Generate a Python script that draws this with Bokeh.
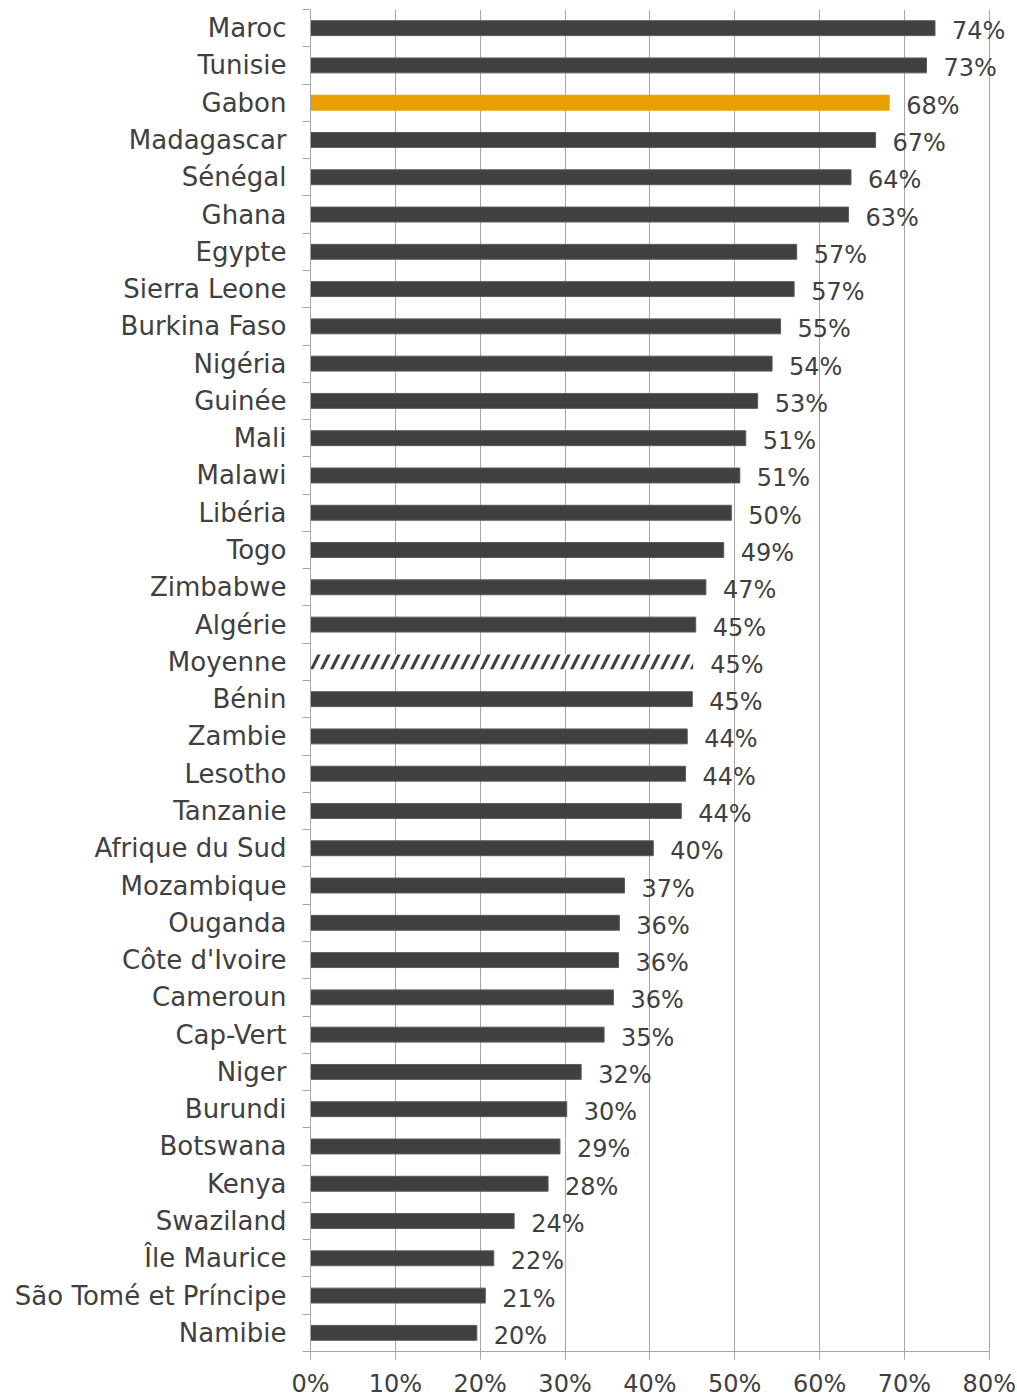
from bokeh.plotting import figure
from bokeh.models import ColumnDataSource, FixedTicker, NumeralTickFormatter, Range1d, LabelSet
from bokeh.core.properties import value
from bokeh.embed import file_html
from bokeh.resources import INLINE

countries = ["Maroc", "Tunisie", "Gabon", "Madagascar", "Sénégal", "Ghana", "Egypte",
             "Sierra Leone", "Burkina Faso", "Nigéria", "Guinée", "Mali", "Malawi",
             "Libéria", "Togo", "Zimbabwe", "Algérie", "Moyenne", "Bénin", "Zambie",
             "Lesotho", "Tanzanie", "Afrique du Sud", "Mozambique", "Ouganda",
             "Côte d'Ivoire", "Cameroun", "Cap-Vert", "Niger", "Burundi", "Botswana",
             "Kenya", "Swaziland", "Île Maurice", "São Tomé et Príncipe", "Namibie"]
values = [73.6, 72.6, 68.2, 66.6, 63.7, 63.4, 57.3, 57.0, 55.4, 54.4, 52.7, 51.3, 50.6,
          49.6, 48.7, 46.6, 45.4, 45.1, 45.0, 44.4, 44.2, 43.7, 40.4, 37.0, 36.4, 36.3,
          35.7, 34.6, 31.9, 30.2, 29.4, 28.0, 24.0, 21.6, 20.6, 19.6]
labels = ["74%", "73%", "68%", "67%", "64%", "63%", "57%", "57%", "55%", "54%", "53%",
          "51%", "51%", "50%", "49%", "47%", "45%", "45%", "45%", "44%", "44%", "44%",
          "40%", "37%", "36%", "36%", "36%", "35%", "32%", "30%", "29%", "28%", "24%",
          "22%", "21%", "20%"]
highlight = "Gabon"
average = "Moyenne"
x_ticks = [0, 0.1, 0.2, 0.3, 0.4, 0.5, 0.6, 0.7, 0.8]

DARK = "#404040"
GOLD = "#E8A100"
GRID = "#A6A6A6"
TEXT = "#404040"
FONT = "DejaVu Sans"

n = len(countries)
ypos = [n - 1 - i for i in range(n)]
frac = [v / 100 for v in values]

normal = [i for i, c in enumerate(countries) if c != average]
src = ColumnDataSource(dict(
    y=[ypos[i] for i in normal],
    right=[frac[i] for i in normal],
    color=[GOLD if countries[i] == highlight else DARK for i in normal],
    line=[GOLD if countries[i] == highlight else "#5a5a5a" for i in normal],
))
avg_i = countries.index(average)
avg_src = ColumnDataSource(dict(y=[ypos[avg_i]], right=[frac[avg_i]]))
lab_src = ColumnDataSource(dict(x=frac, y=ypos, text=labels))

# 679 px per 0.8 -> 700 px for 0.825
p = figure(frame_width=700, frame_height=1342, output_backend="svg", toolbar_location=None,
           x_range=Range1d(0, 0.825), y_range=Range1d(-0.5, n - 0.5),
           min_border_left=310, min_border_top=9, min_border_right=6, min_border_bottom=46)
p.outline_line_color = None
p.background_fill_color = "white"

p.hbar(y="y", left=0, right="right", height=0.4, fill_color="color", line_color="line",
       line_width=1, source=src)
p.hbar(y="y", left=0, right="right", height=0.4, fill_color="white", line_color=None,
       hatch_pattern="/", hatch_color=DARK, hatch_weight=3, hatch_scale=20, source=avg_src)
ls = LabelSet(x="x", y="y", text="text", source=lab_src, x_offset=17, y_offset=-3,
              text_font=value(FONT), text_font_size=value("24px"), text_color=TEXT,
              text_baseline="middle", text_align="left")
p.add_layout(ls)

# x axis
p.xaxis.ticker = FixedTicker(ticks=x_ticks)
p.xaxis.bounds = (0, 0.8)
p.xaxis.formatter = NumeralTickFormatter(format="0%")
p.xaxis.axis_line_color = GRID
p.xaxis.major_tick_line_color = GRID
p.xaxis.major_tick_out = 8
p.xaxis.major_tick_in = 0
p.xaxis.minor_tick_line_color = None
p.xaxis.major_label_text_font = FONT
p.xaxis.major_label_text_font_size = "24px"
p.xaxis.major_label_text_color = TEXT
p.xaxis.major_label_standoff = 10

# y axis
p.yaxis.ticker = FixedTicker(ticks=ypos, minor_ticks=[k - 0.5 for k in range(n + 1)])
p.yaxis.major_label_overrides = {ypos[i]: countries[i] for i in range(n)}
p.yaxis.axis_line_color = GRID
p.yaxis.major_tick_line_color = None
p.yaxis.major_tick_out = 0
p.yaxis.major_tick_in = 0
p.yaxis.minor_tick_line_color = GRID
p.yaxis.minor_tick_out = 8
p.yaxis.minor_tick_in = 0
p.yaxis.major_label_text_font = FONT
p.yaxis.major_label_text_font_size = "26px"
p.yaxis.major_label_text_color = TEXT
p.yaxis.major_label_standoff = 16

p.xgrid.ticker = FixedTicker(ticks=x_ticks)
p.xgrid.grid_line_color = GRID
p.ygrid.grid_line_color = None

open("out.html", "w").write(file_html(p, INLINE))
